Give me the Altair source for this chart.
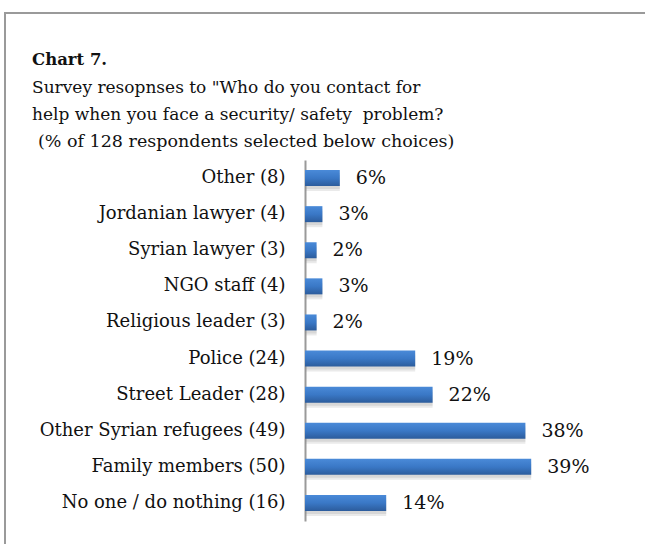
import altair as alt
import pandas as pd

categories = ["Other (8)", "Jordanian lawyer (4)", "Syrian lawyer (3)", "NGO staff (4)",
              "Religious leader (3)", "Police (24)", "Street Leader (28)",
              "Other Syrian refugees (49)", "Family members (50)", "No one / do nothing (16)"]
percents = [6, 3, 2, 3, 2, 19, 22, 38, 39, 14]

title_text = "Chart 7."
subtitle_lines = ["Survey resopnses to \"Who do you contact for",
                  "help when you face a security/ safety\u00a0 problem?"]
note_text = "(% of 128 respondents selected below choices)"

df = pd.DataFrame({"cat": categories, "pct": percents})
df["label"] = df["pct"].astype(str) + "%"

FONT = "DejaVu Serif"
INK = "#111111"

grad = alt.LinearGradient(
    gradient="linear",
    stops=[alt.GradientStop(color="#4a8ad8", offset=0),
           alt.GradientStop(color="#3a78c6", offset=0.5),
           alt.GradientStop(color="#2c5c9c", offset=1)],
    x1=0, x2=0, y1=0, y2=1)

y_enc = alt.Y("cat:N", sort=categories, title=None,
              scale=alt.Scale(paddingInner=0, paddingOuter=0),
              axis=alt.Axis(labelFont=FONT, labelFontSize=18, labelColor=INK,
                            labelPadding=20, ticks=False, domainColor="#9a9a9a",
                            domainWidth=2, labelLimit=400))
x_enc = alt.X("pct:Q", scale=alt.Scale(domain=[0, 50]), axis=None)

shadow1 = alt.Chart(df).mark_bar(size=18, color="#8a8a8a", opacity=0.18,
                                 yOffset=4, x2Offset=4).encode(x=x_enc, y=y_enc)
shadow2 = alt.Chart(df).mark_bar(size=14, color="#8a8a8a", opacity=0.2,
                                 yOffset=4, x2Offset=2).encode(x=x_enc, y=y_enc)
bars = alt.Chart(df).mark_bar(size=16, color=grad).encode(x=x_enc, y=y_enc)
labels = alt.Chart(df).mark_text(align="left", baseline="middle", dx=16,
                                 font=FONT, fontSize=19, color=INK).encode(
    x=x_enc, y=y_enc, text="label:N")

one = pd.DataFrame({"a": [0]})
frame = alt.Chart(one).mark_rect(
    fill="transparent", stroke="#9a9a9a", strokeWidth=2).encode(
    x=alt.value(-300), x2=alt.value(400), y=alt.value(-147), y2=alt.value(450))

def line(text, y, size, weight="normal", x=-273):
    return alt.Chart(one).mark_text(
        align="left", baseline="alphabetic", font=FONT, fontSize=size,
        fontWeight=weight, color=INK, text=text).encode(
        x=alt.value(x), y=alt.value(y))

t0 = line(title_text, -95, 16.5, "bold")
t1 = line(subtitle_lines[0], -67, 17)
t2 = line(subtitle_lines[1], -40, 17)
t3 = line(note_text, -13, 17.5, x=-267)

chart = alt.layer(frame, shadow1, shadow2, bars, labels, t0, t1, t2, t3).properties(
    width=290, height=361,
    background="white",
    autosize=alt.AutoSizeParams(type="none"),
    padding={"left": 305, "top": 160, "right": 50, "bottom": 23},
).configure_view(strokeWidth=0, stroke="transparent")

chart.save("out.html", embed_options={"renderer": "svg", "actions": False})
